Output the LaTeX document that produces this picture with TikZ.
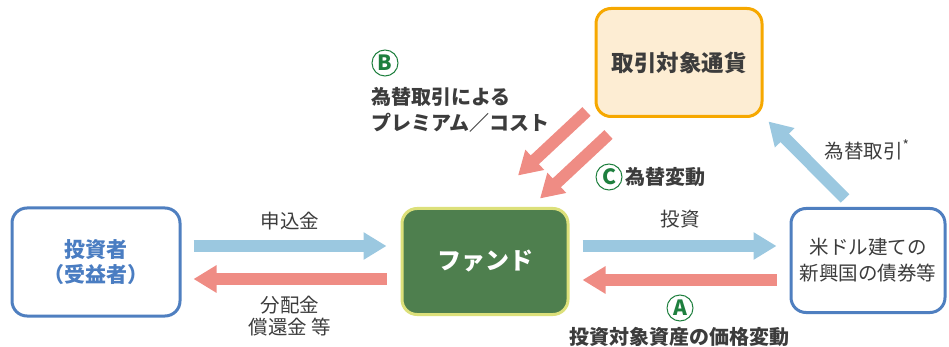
\documentclass[tikz,border=0pt]{standalone}
\usepackage{fontspec}
\setmainfont{Noto Sans CJK JP}
\usetikzlibrary{arrows.meta,calc}
\definecolor{txt}{HTML}{3C3C3C}
\definecolor{invblue}{HTML}{4F7FC0}
\definecolor{invtxt}{HTML}{4A7DC2}
\definecolor{fundfill}{HTML}{4E7F4E}
\definecolor{fundedge}{HTML}{DCE07A}
\definecolor{curfill}{HTML}{FDEDD3}
\definecolor{curedge}{HTML}{F6A800}
\definecolor{arrblue}{HTML}{9BC8E0}
\definecolor{arrred}{HTML}{EF8C84}
\definecolor{mark}{HTML}{1E7F3E}
\tikzset{
  box/.style={rounded corners=15pt, line width=3pt, align=center, inner sep=0pt},
  bluearr/.style={draw=arrblue, line width=12pt, -{Triangle[width=26pt,length=23pt]}},
  redarr/.style={draw=arrred, line width=12pt, -{Triangle[width=26pt,length=23pt]}},
  lbl/.style={text=txt, font=\fontsize{19.5}{22}\selectfont, align=center, inner sep=0pt},
  circmark/.style={circle, draw=mark, line width=1pt, text=mark, minimum size=26pt, inner sep=0pt, font=\fontsize{21}{21}\selectfont\bfseries}
}
\begin{document}
\begin{tikzpicture}[x=1pt,y=-1pt]
\path[use as bounding box] (0,0) rectangle (949,347);
% boxes
\node[box, draw=invblue, fill=white, minimum width=168pt, minimum height=108pt, text=invtxt,
  font=\fontsize{21}{25}\selectfont\bfseries] (inv) at (96,262) {投資者\\（受益者）};
\node[box, draw=fundedge, fill=fundfill, minimum width=166pt, minimum height=106pt, text=white,
  font=\fontsize{24}{28}\selectfont\bfseries] (fund) at (485,261.5) {ファンド};
\node[box, draw=invblue, fill=white, minimum width=154pt, minimum height=104pt, text=txt,
  font=\fontsize{19.5}{26}\selectfont] (bond) at (868,260.5) {米ドル建ての\\新興国の債券等};
\node[box, draw=curedge, fill=curfill, minimum width=166pt, minimum height=108pt, text=txt,
  font=\fontsize{22.5}{26}\selectfont\bfseries] (cur) at (679,62.5) {取引対象通貨};
% horizontal arrows
\draw[bluearr] ($(inv.east)+(12,-16)$) -- ($(fund.west)+(-14,-15.5)$);
\draw[redarr] ($(fund.west)+(-14,17.5)$) -- ($(inv.east)+(12,17)$);
\draw[bluearr] ($(fund.east)+(13,-15.5)$) -- ($(bond.west)+(-13,-14.5)$);
\draw[redarr] ($(bond.west)+(-13,19.5)$) -- ($(fund.east)+(13,18.5)$);
% diagonal arrows
\draw[bluearr] ($(bond.north)+(-23,-8.5)$) -- ($(cur.south east)+(5,3.5)$);
\draw[redarr] ($(cur.south west)+(-8,-6.5)$) -- ($(fund.north)+(33,-31.5)$);
\draw[redarr] ($(cur.south west)+(14,16.5)$) -- ($(fund.north)+(55,-8.5)$);
% labels
\node[lbl] (l1) at (290,221) {申込金};
\node[lbl] (l2) at (290,316) {分配金\\償還金 等};
\node[lbl] (l3) at (680,219) {投資};
\node[lbl] (l4) at (867,150) {為替取引\textsuperscript{*}};
\node[circmark] (mA) at (680,308) {A};
\node[lbl, font=\fontsize{20}{22}\selectfont\bfseries] (tA) at (679,337) {投資対象資産の価格変動};
\node[circmark] (mB) at (385,63) {B};
\node[lbl, anchor=west, align=left, font=\fontsize{20}{26}\selectfont\bfseries] (tB) at (371,110) {為替取引による\\プレミアム／コスト};
\node[circmark] (mC) at (609,177) {C};
\node[lbl, anchor=west, font=\fontsize{20}{22}\selectfont\bfseries] (tC) at (625,177) {為替変動};
\end{tikzpicture}
\end{document}
